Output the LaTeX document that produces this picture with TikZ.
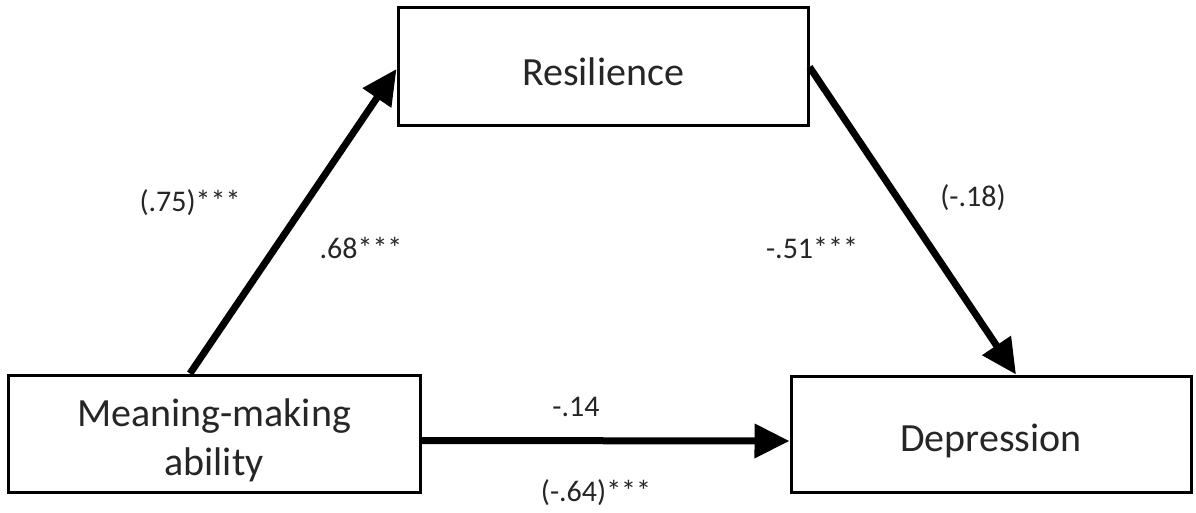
\documentclass[tikz,border=0pt]{standalone}
\usepackage{fontspec}
\setmainfont{Carlito}
\usetikzlibrary{arrows.meta}
\begin{document}
\begin{tikzpicture}[x=1pt,y=1pt,
  box/.style={draw=black,line width=3pt,rectangle,inner sep=0pt,fill=white},
  boxtext/.style={font=\fontsize{40}{49}\selectfont,align=center,text=black!85},
  coef/.style={font=\fontsize{30}{36}\selectfont,text=black!85},
  arr/.style={line width=7pt,-{Triangle[length=35pt,width=33pt]}}]
\useasboundingbox[fill=white] (0,0) rectangle (1196,-513);
\node[box,minimum width=410pt,minimum height=118pt,
  label={[boxtext,yshift=-5pt]center:Resilience}] (r) at (603,-67) {};
\node[box,minimum width=412pt,minimum height=117pt,
  label={[boxtext,yshift=-7pt]center:Meaning-making\\ability}] (m) at (214,-433.5) {};
\node[box,minimum width=400pt,minimum height=116pt,
  label={[boxtext,yshift=-7pt]center:Depression}] (d) at (991,-434) {};
\draw[arr] ([xshift=-24pt]m.north) -- ([yshift=-2pt]r.west);
\draw[arr] (r.east) -- ([xshift=25pt]d.north);
\draw[arr] ([yshift=-7pt]m.east) -- ([yshift=-7pt]d.west);
\node[coef] (l1) at (190,-203) {(.75)***};
\node[coef] (l2) at (361,-248) {.68***};
\node[coef] (l3) at (973,-198) {(-.18)};
\node[coef] (l4) at (812,-248) {-.51***};
\node[coef] (l5) at (576,-407) {-.14};
\node[coef] (l6) at (596,-493) {(-.64)***};
\end{tikzpicture}
\end{document}
